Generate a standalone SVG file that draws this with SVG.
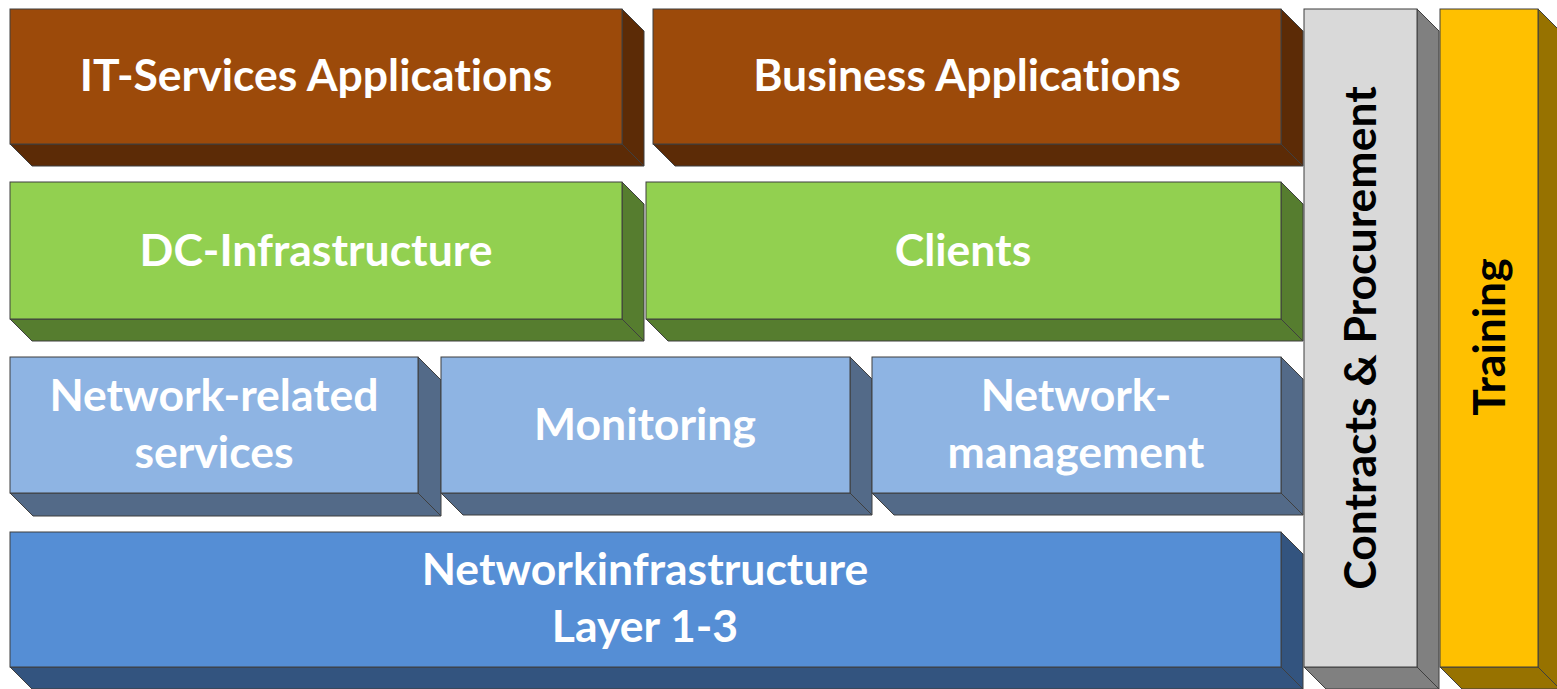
<svg xmlns="http://www.w3.org/2000/svg" width="1557" height="689" viewBox="0 0 1557 689">
<style>
.e{stroke:#3f3f3f;stroke-width:1;stroke-linejoin:miter}
.t{font-family:Lato,"Open Sans","Liberation Sans",sans-serif;font-weight:bold;font-size:44.5px;text-anchor:middle;font-variant-ligatures:none;font-feature-settings:"liga" 0,"clig" 0}
.w{fill:#ffffff}
.k{fill:#000000}
.brF{fill:#9C4A0A}.brS{fill:#5C2B06}
.grF{fill:#92D050}.grS{fill:#567D2F}
.lbF{fill:#8EB4E3}.lbS{fill:#536A88}
.bF{fill:#558ED5}.bS{fill:#33547F}
.gyF{fill:#D9D9D9}.gyS{fill:#808080}
.yF{fill:#FFC000}.yS{fill:#977200}
</style>
<rect width="1557" height="689" fill="#ffffff"/>
<g id="it-services">
<polygon class="e brS" points="622,9 644,31 644,166 622,144"/>
<polygon class="e brS" points="10,144 622,144 644,166 32,166"/>
<rect class="e brF" x="10" y="9" width="612" height="135"/>
<text class="t w" x="316" y="91">IT-Services Applications</text>
</g>
<g id="business">
<polygon class="e brS" points="1281,9 1303,31 1303,166 1281,144"/>
<polygon class="e brS" points="653,144 1281,144 1303,166 675,166"/>
<rect class="e brF" x="653" y="9" width="628" height="135"/>
<text class="t w" x="967" y="91">Business Applications</text>
</g>
<g id="dc-infra">
<polygon class="e grS" points="622,182 644,204 644,341 622,319"/>
<polygon class="e grS" points="10,319 622,319 644,341 32,341"/>
<rect class="e grF" x="10" y="182" width="612" height="137"/>
<text class="t w" x="316" y="266">DC-Infrastructure</text>
</g>
<g id="clients">
<polygon class="e grS" points="1281,182 1303,204 1303,341 1281,319"/>
<polygon class="e grS" points="646,319 1281,319 1303,341 668,341"/>
<rect class="e grF" x="646" y="182" width="635" height="137"/>
<text class="t w" x="963" y="266">Clients</text>
</g>
<g id="network-related">
<polygon class="e lbS" points="418,357 441,380 441,516 418,493"/>
<polygon class="e lbS" points="10,493 418,493 441,516 33,516"/>
<rect class="e lbF" x="10" y="357" width="408" height="136"/>
<text class="t w" x="214" y="411">Network-related</text>
<text class="t w" x="214" y="468">services</text>
</g>
<g id="monitoring">
<polygon class="e lbS" points="850,357 872,379 872,515 850,493"/>
<polygon class="e lbS" points="441,493 850,493 872,515 463,515"/>
<rect class="e lbF" x="441" y="357" width="409" height="136"/>
<text class="t w" x="645" y="440">Monitoring</text>
</g>
<g id="network-management">
<polygon class="e lbS" points="1281,357 1303,379 1303,515 1281,493"/>
<polygon class="e lbS" points="872,493 1281,493 1303,515 894,515"/>
<rect class="e lbF" x="872" y="357" width="409" height="136"/>
<text class="t w" x="1076" y="411">Network-</text>
<text class="t w" x="1076" y="468">management</text>
</g>
<g id="networkinfrastructure">
<polygon class="e bS" points="1281,532 1303,554 1303,689 1281,667"/>
<polygon class="e bS" points="10,667 1281,667 1303,689 32,689"/>
<rect class="e bF" x="10" y="532" width="1271" height="135"/>
<text class="t w" x="645" y="585">Networkinfrastructure</text>
<text class="t w" x="645" y="642">Layer 1-3</text>
</g>
<g id="contracts">
<polygon class="e gyS" points="1417,9 1439,31 1439,689 1417,667"/>
<polygon class="e gyS" points="1304,667 1417,667 1439,689 1326,689"/>
<rect class="e gyF" x="1304" y="9" width="113" height="658"/>
<text class="t k" transform="translate(1376,338) rotate(-90)">Contracts &amp; Procurement</text>
</g>
<g id="training">
<polygon class="e yS" points="1538,9 1560,31 1560,689 1538,667"/>
<polygon class="e yS" points="1440,667 1538,667 1560,689 1462,689"/>
<rect class="e yF" x="1440" y="9" width="98" height="658"/>
<text class="t k" transform="translate(1505,337) rotate(-90)">Training</text>
</g>
<g id="connectors"></g>
</svg>
